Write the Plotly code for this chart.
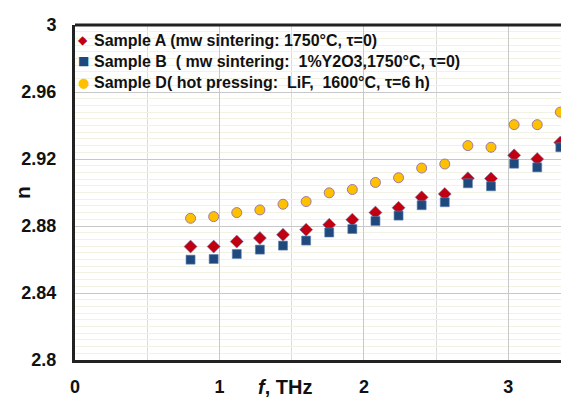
import plotly.graph_objects as go

f_thz = [0.80, 0.96, 1.12, 1.28, 1.44, 1.60, 1.76, 1.92, 2.08, 2.24, 2.40, 2.56, 2.72, 2.88, 3.04, 3.20, 3.36]
n_A = [2.8677, 2.8677, 2.8707, 2.8728, 2.8748, 2.8778, 2.8808, 2.8838, 2.8880, 2.8909, 2.8971, 2.8991, 2.9085, 2.9083, 2.9222, 2.9200, 2.9298]
n_B = [2.8599, 2.8603, 2.8633, 2.8659, 2.8683, 2.8713, 2.8761, 2.8782, 2.8830, 2.8862, 2.8924, 2.8942, 2.9055, 2.9037, 2.9172, 2.9150, 2.9270]
n_D = [2.8846, 2.8856, 2.8880, 2.8896, 2.8930, 2.8946, 2.8998, 2.9018, 2.9060, 2.9088, 2.9146, 2.9170, 2.9280, 2.9270, 2.9405, 2.9405, 2.9480]

name_A = "Sample A (mw sintering: 1750°C, τ=0)"
name_B = "Sample B  ( mw sintering:  1%Y2O3,1750°C, τ=0)"
name_D = "Sample D( hot pressing:  LiF,  1600°C, τ=6 h)"

x_ticks = [0, 1, 2, 3]
y_ticks = [2.8, 2.84, 2.88, 2.92, 2.96, 3.0]
y_tick_text = ["2.8", "2.84", "2.88", "2.92", "2.96", "3"]

FONT = "Liberation Sans, Arial, sans-serif"
COL_A, COL_B, COL_D = "#C00010", "#1F497D", "#FFC000"

# page body has an 8px default margin: figure is sized/offset to compensate
PLOT_L, PLOT_R, PLOT_T, PLOT_B = 75, 569, 25, 360  # plot area in window px
OFF = 8


def fx(px):
    return (px - PLOT_L) / (PLOT_R - PLOT_L)


def fy(py):
    return (PLOT_B - py) / (PLOT_B - PLOT_T)


fig = go.Figure()
fig.add_trace(go.Scatter(
    x=f_thz, y=n_D, mode="markers", name=name_D, showlegend=False,
    marker=dict(symbol="circle", size=10, color=COL_D,
                line=dict(color="#9B7BA8", width=1)),
))
fig.add_trace(go.Scatter(
    x=f_thz, y=n_A, mode="markers", name=name_A, showlegend=False,
    marker=dict(symbol="diamond", size=10, color=COL_A,
                line=dict(color="#6F7FB8", width=0.6)),
))
fig.add_trace(go.Scatter(
    x=f_thz, y=n_B, mode="markers", name=name_B, showlegend=False,
    marker=dict(symbol="square", size=9, color=COL_B,
                line=dict(color="#5A7FB0", width=0.6)),
))

legend_items = [
    (name_A, "◆", COL_A, 12, 40.5),
    (name_B, "■", COL_B, 12, 61.5),
    (name_D, "●", COL_D, 13, 82.5),
]
annotations = []
for name, sym, col, ssize, py in legend_items:
    annotations.append(dict(
        text=sym, xref="paper", yref="paper", x=fx(83), y=fy(py),
        xanchor="center", yanchor="middle", showarrow=False,
        font=dict(family="DejaVu Sans", size=ssize, color=col)))
    annotations.append(dict(
        text=name, xref="paper", yref="paper", x=fx(92), y=fy(py),
        xanchor="left", yanchor="middle", showarrow=False,
        font=dict(family=FONT, size=16, color="#111111", weight="bold")))

annotations.append(dict(
    text="<b><i>f</i>, THz</b>", xref="paper", yref="paper",
    x=fx(285), y=fy(400), xanchor="center", yanchor="bottom",
    showarrow=False, font=dict(family=FONT, size=20, color="#111111")))
annotations.append(dict(
    text="<b>n</b>", xref="paper", yref="paper",
    x=fx(22), y=fy(193), xanchor="center", yanchor="middle",
    textangle=-90, showarrow=False,
    font=dict(family=FONT, size=21, color="#111111")))

fig.update_layout(
    width=569 - OFF, height=401 - OFF,
    margin=dict(l=PLOT_L - OFF, r=0, t=PLOT_T - OFF, b=401 - PLOT_B, autoexpand=False),
    paper_bgcolor="white", plot_bgcolor="white",
    font=dict(family=FONT, size=15, color="#1a1a1a"),
    showlegend=False,
    xaxis=dict(
        range=[0, 3.42], tickvals=x_ticks, ticktext=[str(v) for v in x_ticks],
        tickfont=dict(family=FONT, size=18, weight="bold", color="#111111"),
        showgrid=True, gridcolor="#C8C8C8", gridwidth=1,
        minor=dict(dtick=0.5, showgrid=True, gridcolor="#DCDCDC", gridwidth=1),
        showline=True, linecolor="#222222", linewidth=3,
        ticks="", ticklabelstandoff=8, zeroline=False, automargin=False,
    ),
    yaxis=dict(
        range=[2.8, 3.0], tickvals=y_ticks, ticktext=y_tick_text,
        tickfont=dict(family=FONT, size=18, weight="bold", color="#111111"),
        showgrid=True, gridcolor="#C8C8C8", gridwidth=1,
        minor=dict(dtick=0.004, showgrid=True, gridcolor="#F1F1E4", gridwidth=1),
        showline=True, linecolor="#222222", linewidth=3,
        ticks="", ticklabelstandoff=12, zeroline=False, automargin=False,
    ),
    shapes=[dict(type="line", xref="paper", yref="paper", x0=0, x1=1, y0=1, y1=1,
                 line=dict(color="#222222", width=3))],
    annotations=annotations,
)

fig.write_html("out.html")
